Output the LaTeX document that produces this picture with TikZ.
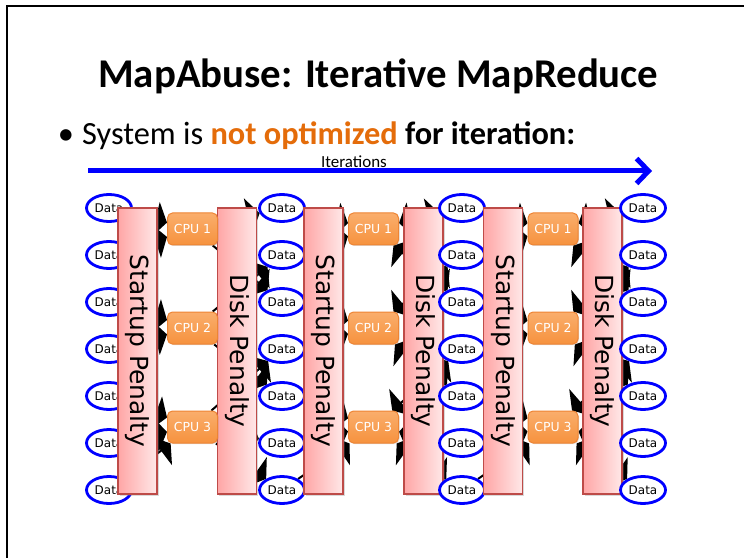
\documentclass[tikz,border=0pt]{standalone}
\usepackage{fontspec}
\setmainfont{Carlito}
\newfontfamily\dvs{DejaVu Sans}
\usetikzlibrary{arrows.meta,shadows,shapes.geometric}

\definecolor{datablue}{RGB}{0,0,255}
\definecolor{penaltyedge}{RGB}{190,75,72}
\definecolor{penaltyleft}{RGB}{255,166,166}
\definecolor{penaltyright}{RGB}{255,232,232}
\definecolor{cputop}{RGB}{250,174,108}
\definecolor{cpubottom}{RGB}{246,146,62}
\definecolor{cpuedge}{RGB}{238,132,52}
\definecolor{hiorange}{RGB}{228,108,10}

\pgfdeclarelayer{links}
\pgfdeclarelayer{disks}
\pgfdeclarelayer{starts}
\pgfsetlayers{links,disks,main,starts}

\tikzset{
  datanode/.style={ellipse, draw=datablue, line width=2.8bp, fill=white,
    minimum width=45bp, minimum height=27bp, inner sep=0pt,
    font=\dvs\fontsize{12}{13}\selectfont},
  penaltybox/.style={rectangle, draw=penaltyedge, line width=1.5bp,
    left color=penaltyleft, right color=penaltyright,
    minimum width=39bp, minimum height=286bp, inner sep=0pt,
    drop shadow={shadow xshift=1.5bp, shadow yshift=-1.5bp, opacity=0.3}},
  penaltytext/.style={rotate=-90, inner sep=0pt,
    font=\dvs\fontsize{25}{28}\selectfont},
  cpubox/.style={rectangle, rounded corners=5bp, draw=cpuedge, line width=1bp,
    top color=cputop, bottom color=cpubottom, text=white,
    minimum width=50bp, minimum height=32bp, inner sep=0pt,
    font=\dvs\fontsize{12.5}{14}\selectfont,
    drop shadow={shadow xshift=1bp, shadow yshift=-1bp, opacity=0.25}},
  bigtip/.tip={Triangle[length=12bp,width=36bp]},
  inlink/.style={line width=2bp, black, -bigtip},
  outlink/.style={line width=2bp, black, -bigtip},
  outlinkback/.style={line width=2bp, black, bigtip-bigtip},
}

\begin{document}
\begin{tikzpicture}[x=1bp, y=-1bp]
\useasboundingbox (0,0) rectangle (744,558);

% slide frame
\draw[line width=2bp] (7,558) -- (7,6) -- (744,6);

% heading and bullet
\node[anchor=base west, inner sep=0pt, font=\bfseries\fontsize{41}{48}\selectfont]
  (title) at (98,88) {MapAbuse: Iterative MapReduce};
\node[anchor=base, inner sep=0pt, font=\fontsize{32.5}{38}\selectfont]
  (dot) at (66,145) {•};
\node[anchor=base west, inner sep=0pt, font=\fontsize{32.5}{38}\selectfont]
  (bullet) at (82,145) {System is \textbf{\textcolor{hiorange}{not optimized} for iteration:}};

% iterations axis
\coordinate (itstart) at (88,171);
\coordinate (itend) at (652,171);
\draw[datablue, line width=5bp, -{Straight Barb[length=12bp,width=25bp]}] (itstart) -- (itend);
\node[anchor=base west, inner sep=0pt, font=\fontsize{17}{20}\selectfont]
  (itlabel) at (321,168) {Iterations};

% data columns
\foreach \c/\x in {1/109, 2/282, 3/462, 4/643} {
  \foreach \r in {1,...,7} {
    \node[datanode] (d\c-\r) at (\x, {208+47*(\r-1)}) {Data};
  }
}

% penalty bars
\foreach \c/\xs/\xd in {1/137.5/237, 2/323.5/423.5, 3/503/602.5} {
  \begin{pgfonlayer}{starts}
    \node[penaltybox] (st\c) at (\xs,351) {};
    \node[penaltytext] (st\c t) at (st\c.center) {Startup Penalty};
  \end{pgfonlayer}
  \begin{pgfonlayer}{disks}
    \node[penaltybox] (dk\c) at (\xd,351) {};
    \node[penaltytext] (dk\c t) at (dk\c.center) {Disk Penalty};
  \end{pgfonlayer}
}

% CPUs
\foreach \c/\x in {1/192.5, 2/373.5, 3/553} {
  \foreach \k/\y in {1/229, 2/328, 3/427} {
    \node[cpubox] (cpu\c-\k) at (\x,\y) {CPU \k};
  }
}

% data flow, mostly hidden behind the penalty bars
\begin{pgfonlayer}{links}
  \foreach \c in {1,2,3} {
    \foreach \r/\k in {1/1, 2/1, 3/2, 4/2, 5/3, 6/3, 7/3} {
      \draw[inlink] (d\c-\r) -- (cpu\c-\k);
    }
  }
  \foreach \k/\r in {1/1, 1/3, 2/2, 2/5, 3/4, 3/6, 3/7} {
    \draw[outlink] (cpu1-\k) -- (d2-\r);
  }
  \foreach \c [evaluate=\c as \n using int(\c+1)] in {2,3} {
    \foreach \k/\r in {1/1, 1/3, 2/2, 2/5, 3/4, 3/6, 3/7} {
      \draw[outlinkback] (cpu\c-\k) -- (d\n-\r);
    }
  }
\end{pgfonlayer}
\end{tikzpicture}
\end{document}
